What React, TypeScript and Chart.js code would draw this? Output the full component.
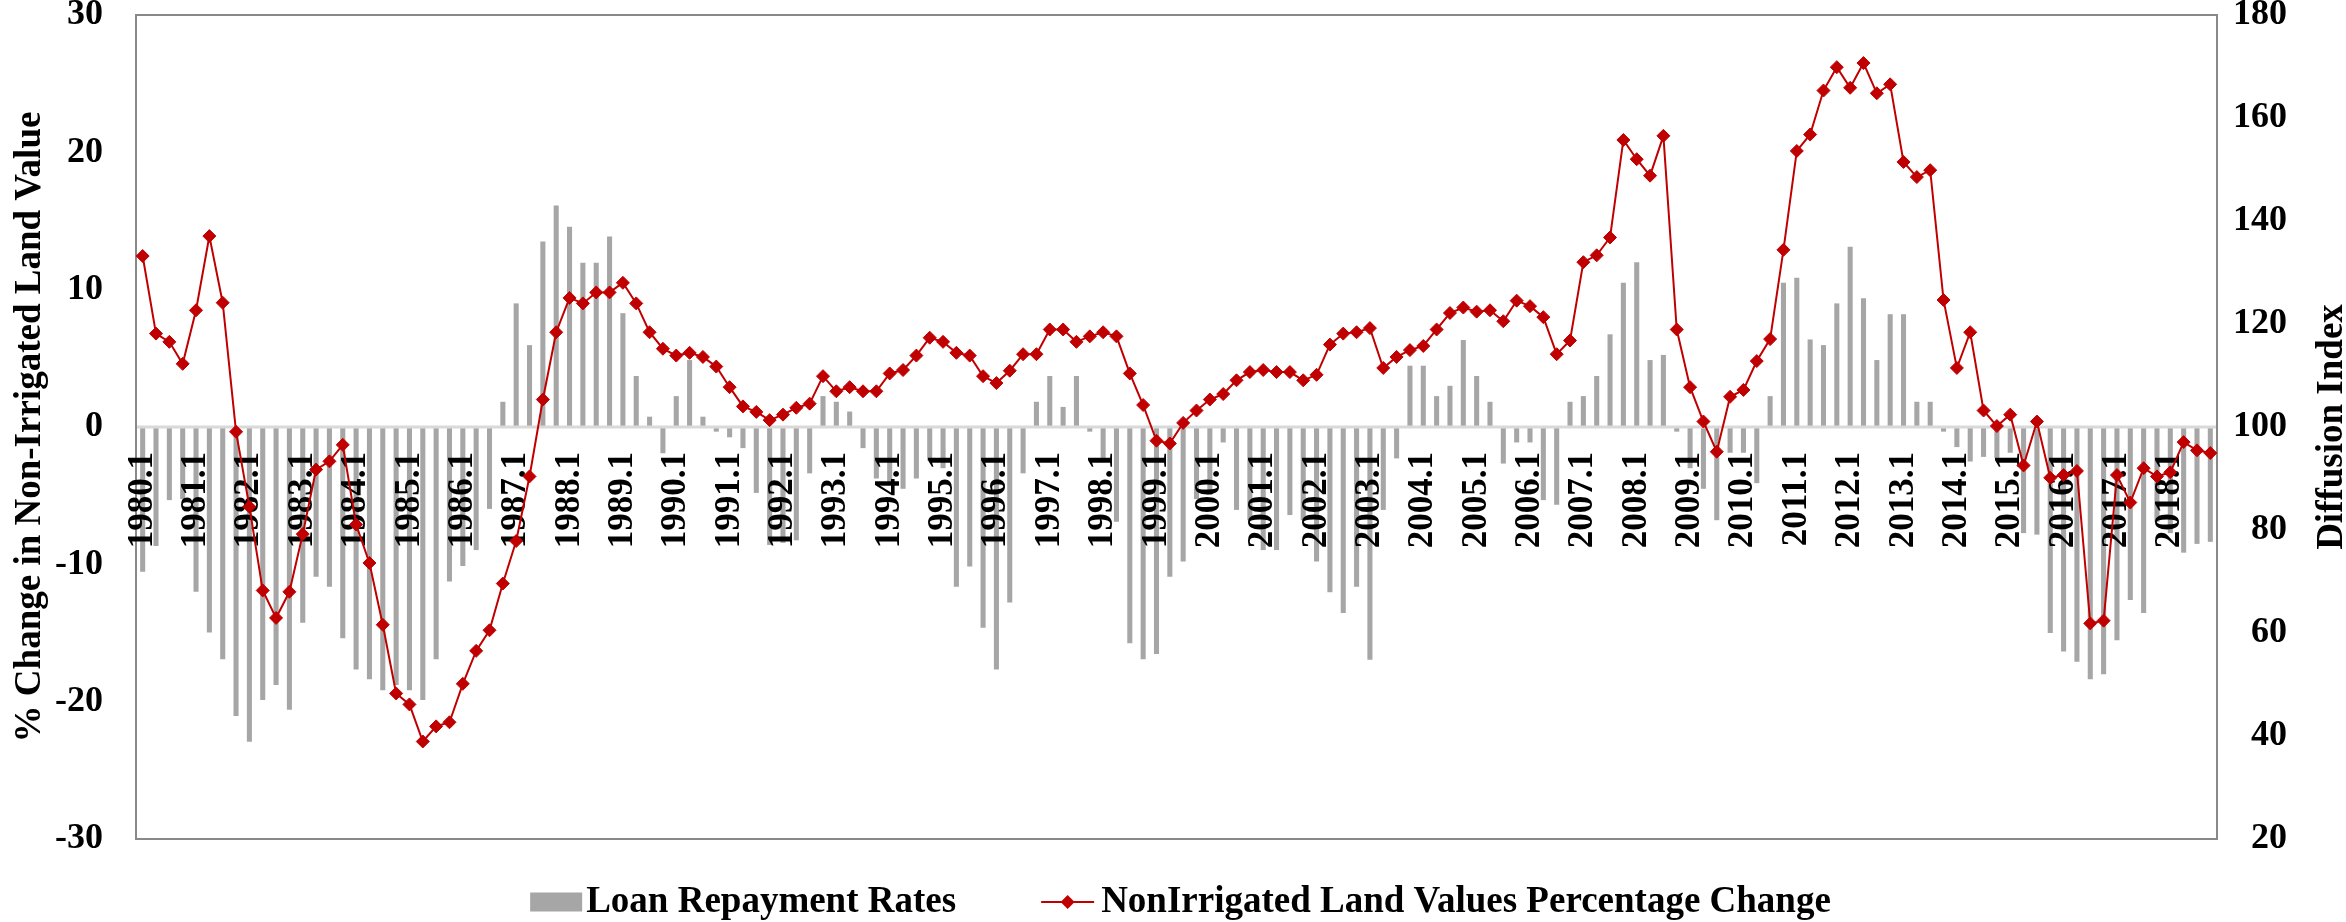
import React, { useEffect, useRef } from 'react';
import { Chart, registerables } from 'chart.js';

Chart.register(...registerables);

const YEARS = [
  1980, 1981, 1982, 1983, 1984, 1985, 1986, 1987, 1988, 1989,
  1990, 1991, 1992, 1993, 1994, 1995, 1996, 1997, 1998, 1999,
  2000, 2001, 2002, 2003, 2004, 2005, 2006, 2007, 2008, 2009,
  2010, 2011, 2012, 2013, 2014, 2015, 2016, 2017, 2018,
];
const QUARTERS = ['1', '2', '3', '4'];
const CATEGORIES = YEARS.flatMap((y) => QUARTERS.map((q) => `${y}.${q}`));

// Loan repayment rates (diffusion index, right axis, bars hang from 100)
const LOAN_REPAYMENT = [
  71.9, 76.9, 85.8, 86, 68.0, 60.1, 54.9, 43.9, 38.9, 47.0,
  49.9, 45.1, 62.0, 70.9, 69.0, 59.0, 52.9, 51.0, 48.9, 49.9,
  48.9, 47.0, 54.9, 70, 73.0, 76.1, 84.1, 104.9, 124.0, 115.9,
  136.0, 143.0, 138.9, 131.9, 131.9, 137.0, 122.1, 109.9, 102.0, 94.9,
  106.0, 113.0, 102.0, 99.1, 98.0, 95.9, 87.2, 77.1, 77.5, 78.0,
  91.0, 106.0, 104.9, 103.0, 95.9, 90.0, 89.1, 88, 90.0, 93.5,
  92, 69.0, 72.9, 61.0, 52.9, 65.9, 91.0, 104.9, 109.9, 103.9,
  109.9, 99.1, 94, 81.6, 58.0, 54.9, 55.9, 70.9, 73.9, 86.0,
  86.8, 97, 83.9, 81.9, 76.1, 76.1, 82.9, 81.9, 73.9, 67.9,
  63.9, 69.0, 54.8, 83.9, 93.9, 111.9, 111.9, 106.0, 108.0, 116.9,
  109.9, 104.9, 92.9, 97, 97.0, 85.8, 84.9, 104.9, 106.0, 109.9,
  118.0, 128.0, 132.0, 113.0, 114.0, 99.1, 92.0, 88, 81.9, 95.0,
  95, 89.1, 106.0, 128.0, 129.0, 117.0, 115.9, 124.0, 135.0, 125.0,
  113.0, 121.9, 121.9, 104.9, 104.9, 99.1, 96.1, 93.3, 94.2, 94,
  95, 79.4, 79.1, 60.0, 56.4, 54.4, 51.0, 52.0, 58.6, 66.4,
  63.9, 81.6, 79.4, 75.6, 77.3, 77.7,
];

// NonIrrigated land values, % change (left axis)
const LAND_VALUE_CHANGE = [
  12.45, 6.8, 6.2, 4.6, 8.5, 13.9, 9.05, -0.35, -5.8, -11.9,
  -13.9, -12.0, -7.8, -3.1, -2.5, -1.3, -7.1, -9.9, -14.4, -19.4,
  -20.2, -22.9, -21.8, -21.5, -18.7, -16.3, -14.8, -11.4, -8.3, -3.6,
  2.0, 6.9, 9.4, 9.0, 9.8, 9.8, 10.5, 9.0, 6.9, 5.7,
  5.2, 5.4, 5.1, 4.4, 2.9, 1.5, 1.1, 0.5, 0.9, 1.4,
  1.7, 3.7, 2.6, 2.9, 2.6, 2.6, 3.9, 4.15, 5.2, 6.5,
  6.2, 5.4, 5.2, 3.7, 3.2, 4.1, 5.3, 5.3, 7.1, 7.1,
  6.2, 6.6, 6.9, 6.6, 3.9, 1.6, -1.0, -1.2, 0.3, 1.2,
  2.0, 2.4, 3.4, 4.0, 4.15, 4.0, 4.0, 3.4, 3.8, 6.0,
  6.8, 6.9, 7.2, 4.3, 5.1, 5.6, 5.9, 7.1, 8.3, 8.7,
  8.4, 8.5, 7.7, 9.2, 8.8, 8.0, 5.3, 6.3, 12.0, 12.5,
  13.8, 20.9, 19.5, 18.3, 21.2, 7.1, 2.9, 0.4, -1.8, 2.2,
  2.7, 4.8, 6.4, 12.9, 20.1, 21.3, 24.5, 26.2, 24.7, 26.5,
  24.3, 24.95, 19.3, 18.2, 18.7, 9.25, 4.3, 6.9, 1.2, 0.07,
  0.9, -2.8, 0.4, -3.7, -3.5, -3.2, -14.3, -14.1, -3.5, -5.5,
  -3.0, -3.6, -3.3, -1.1, -1.7, -1.9,
];

const LEFT_MIN = -30;
const LEFT_MAX = 30;
const LEFT_STEP = 10;
const RIGHT_MIN = 20;
const RIGHT_MAX = 180;
const RIGHT_STEP = 20;
const RIGHT_BASE = 100;

const LEFT_TITLE = '% Change in Non-Irrigated Land Value';
const RIGHT_TITLE = 'Diffusion Index';
const BAR_LABEL = 'Loan Repayment Rates';
const LINE_LABEL = 'NonIrrigated Land Values Percentage Change';

const FONT = '"Liberation Serif", "Times New Roman", serif';
const BAR_COLOR = '#a6a6a6';
const LINE_COLOR = '#c00000';

const drawPlugin = {
  id: 'customDraw',
  beforeDatasetsDraw(chart: any) {
    const { ctx, chartArea: a } = chart;
    ctx.save();
    ctx.strokeStyle = '#898989';
    ctx.lineWidth = 2;
    ctx.strokeRect(a.left, a.top, a.right - a.left, a.bottom - a.top);
    ctx.restore();
  },
  afterDatasetDraw(chart: any, args: any) {
    if (args.meta.type !== 'bar') return;
    const { ctx, chartArea: a, scales } = chart;
    const y0 = scales.y.getPixelForValue(0);
    ctx.save();
    ctx.strokeStyle = '#d9d9d9';
    ctx.lineWidth = 3;
    ctx.beginPath();
    ctx.moveTo(a.left + 1, y0);
    ctx.lineTo(a.right - 1, y0);
    ctx.stroke();
    ctx.fillStyle = '#000';
    ctx.font = `bold 35px ${FONT}`;
    ctx.textAlign = 'right';
    ctx.textBaseline = 'middle';
    CATEGORIES.forEach((lab, i) => {
      if (!lab.endsWith('.1')) return;
      const x = scales.x.getPixelForValue(i);
      ctx.save();
      ctx.translate(x, y0 + 25);
      ctx.rotate(-Math.PI / 2);
      ctx.fillText(lab, 0, 0);
      ctx.restore();
    });
    ctx.restore();
  },
  afterDraw(chart: any) {
    const { ctx, chartArea: a, width, height } = chart;
    const cy = (a.top + a.bottom) / 2;
    ctx.save();
    ctx.fillStyle = '#000';
    ctx.font = `bold 37px ${FONT}`;
    ctx.textAlign = 'center';
    ctx.textBaseline = 'alphabetic';
    // left title
    ctx.save();
    ctx.translate(40, cy);
    ctx.rotate(-Math.PI / 2);
    ctx.fillText(LEFT_TITLE, 0, 0);
    ctx.restore();
    // right title
    ctx.save();
    ctx.translate(width - 4, cy);
    ctx.rotate(-Math.PI / 2);
    ctx.fillText(RIGHT_TITLE, 0, 0);
    ctx.restore();

    // legend
    const w1 = ctx.measureText(BAR_LABEL).width;
    const w2 = ctx.measureText(LINE_LABEL).width;
    const boxW = 52, boxH = 19, gap1 = 4, between = 85, lineW = 53, gap2 = 7;
    const total = boxW + gap1 + w1 + between + lineW + gap2 + w2;
    const cx = (a.left + a.right) / 2 + 4;
    const ly = height - 20;
    let x = cx - total / 2;
    ctx.fillStyle = BAR_COLOR;
    ctx.fillRect(x, ly - boxH / 2, boxW, boxH);
    x += boxW + gap1;
    ctx.fillStyle = '#000';
    ctx.textAlign = 'left';
    ctx.textBaseline = 'middle';
    ctx.fillText(BAR_LABEL, x, ly);
    x += w1 + between;
    ctx.strokeStyle = LINE_COLOR;
    ctx.lineWidth = 2;
    ctx.beginPath();
    ctx.moveTo(x, ly);
    ctx.lineTo(x + lineW, ly);
    ctx.stroke();
    const mx = x + lineW / 2;
    const r = 7;
    ctx.fillStyle = LINE_COLOR;
    ctx.beginPath();
    ctx.moveTo(mx - r, ly);
    ctx.lineTo(mx, ly - r);
    ctx.lineTo(mx + r, ly);
    ctx.lineTo(mx, ly + r);
    ctx.closePath();
    ctx.fill();
    x += lineW + gap2;
    ctx.fillStyle = '#000';
    ctx.fillText(LINE_LABEL, x, ly);
    ctx.restore();
  },
};

export default function App() {
  const ref = useRef<HTMLCanvasElement>(null);
  useEffect(() => {
    document.body.style.margin = '0';
    document.body.style.overflow = 'hidden';
    const tickFont = { family: FONT, size: 36, weight: 'bold' as const };
    const chart = new Chart(ref.current as HTMLCanvasElement, {
      type: 'bar',
      data: {
        labels: CATEGORIES,
        datasets: [
          {
            type: 'line' as const,
            label: LINE_LABEL,
            data: LAND_VALUE_CHANGE,
            yAxisID: 'y',
            borderColor: LINE_COLOR,
            borderWidth: 2,
            backgroundColor: LINE_COLOR,
            pointStyle: 'rectRot',
            pointRadius: 6.5,
            pointBackgroundColor: LINE_COLOR,
            pointBorderColor: LINE_COLOR,
            pointBorderWidth: 1,
            tension: 0,
            order: 1,
          } as any,
          {
            type: 'bar' as const,
            label: BAR_LABEL,
            data: LOAN_REPAYMENT,
            yAxisID: 'y1',
            base: RIGHT_BASE,
            backgroundColor: BAR_COLOR,
            barPercentage: 0.38,
            categoryPercentage: 1,
            order: 2,
          } as any,
        ],
      },
      options: {
        responsive: false,
        animation: false,
        layout: { padding: { top: 15, bottom: 83, left: 0, right: 59 } },
        plugins: { legend: { display: false }, tooltip: { enabled: false } },
        scales: {
          x: {
            type: 'category',
            display: false,
            offset: true,
            grid: { display: false },
          },
          y: {
            position: 'left',
            min: LEFT_MIN,
            max: LEFT_MAX,
            ticks: { stepSize: LEFT_STEP, font: tickFont, color: '#000', padding: 33 },
            grid: { display: false, drawTicks: false },
            border: { display: false },
            afterFit(s: any) {
              s.width = 136;
              s.paddingTop = 0;
              s.paddingBottom = 0;
            },
          },
          y1: {
            position: 'right',
            min: RIGHT_MIN,
            max: RIGHT_MAX,
            ticks: { stepSize: RIGHT_STEP, font: tickFont, color: '#000', padding: 15, crossAlign: 'far' },
            grid: { display: false, drawTicks: false },
            border: { display: false },
            afterFit(s: any) {
              s.width = 70;
              s.paddingTop = 0;
              s.paddingBottom = 0;
            },
          },
        },
      } as any,
      plugins: [drawPlugin],
    });
    return () => chart.destroy();
  }, []);
  return (
    <canvas
      ref={ref}
      width={2346}
      height={922}
      style={{ display: 'block', width: '2346px', height: '922px' }}
    />
  );
}
